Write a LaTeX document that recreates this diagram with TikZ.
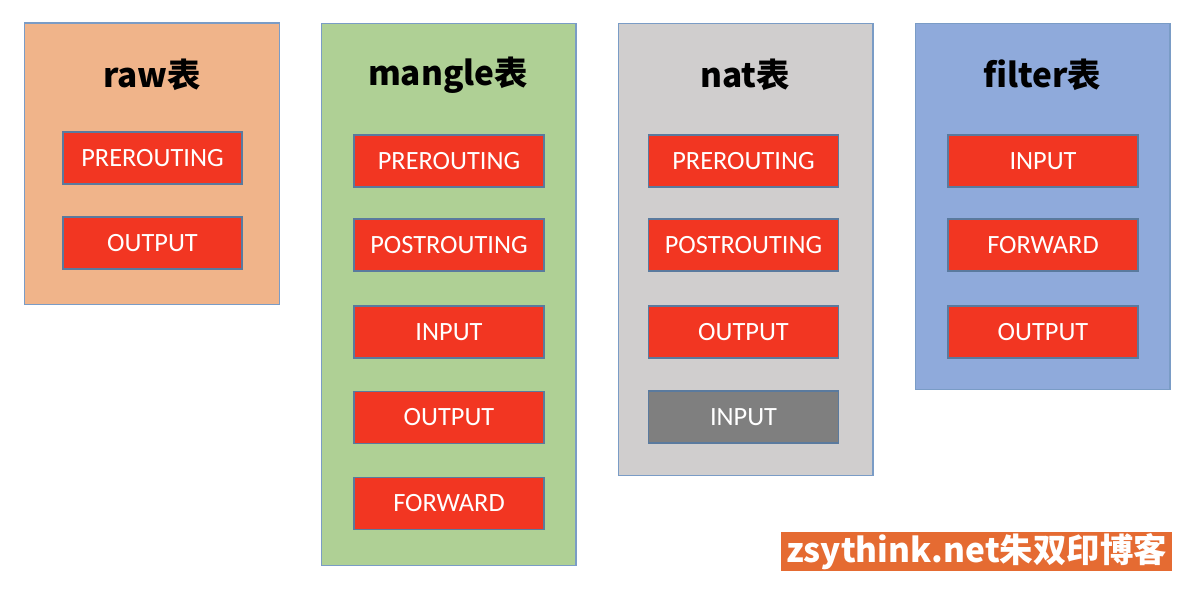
\documentclass[tikz,border=0pt]{standalone}
\usepackage{fontspec}
\setmainfont{Carlito}
\newfontfamily\cjk{Noto Sans CJK SC}
\usepackage{tikz}

\definecolor{rawfill}{HTML}{F0B48A}
\definecolor{manglefill}{HTML}{AFD095}
\definecolor{natfill}{HTML}{D0CECE}
\definecolor{filterfill}{HTML}{8FAADB}
\definecolor{panelline}{HTML}{7A9CC6}
\definecolor{chainfill}{HTML}{F23622}
\definecolor{chainline}{HTML}{5A7A9E}
\definecolor{offfill}{HTML}{7F7F7F}
\definecolor{markfill}{HTML}{E56B32}

\tikzset{
	panel/.style={draw=panelline, line width=0.6pt, minimum width=5.1cm},
	title/.style={font=\cjk\bfseries\fontsize{19}{21}\selectfont},
	chain/.style={draw=chainline, line width=0.7pt, fill=chainfill, text=white,
		minimum width=3.8cm, minimum height=1.04cm, inner sep=0pt,
		font=\fontsize{15}{17}\selectfont}
}

\begin{document}
\begin{tikzpicture}[x=0.02cm, y=-0.02cm]
	\useasboundingbox (0, 0) rectangle (1196, 604);
	%tables
	\node[panel, fill=rawfill, minimum height=5.64cm] (raw) at (152, 164) {};
	\node[panel, fill=manglefill, minimum height=10.86cm] (mangle) at (448.5, 294.5) {};
	\node[panel, fill=natfill, minimum height=9.06cm] (nat) at (745.5, 249.5) {};
	\node[panel, fill=filterfill, minimum height=7.34cm] (filter) at (1042.5, 206.5) {};
	\node[title] (rawtitle) at (152, 75) {raw表};
	\node[title] (mangletitle) at (448, 75) {mangle表};
	\node[title] (nattitle) at (745, 75) {nat表};
	\node[title] (filtertitle) at (1042, 75) {filter表};
	%chains
	\foreach \y/\name [count=\i] in {158/PREROUTING, 243/OUTPUT}
		\node[chain, minimum width=3.58cm] (raw\i) at (152.5, \y) {\name};
	\foreach \y/\name [count=\i] in {161/PREROUTING, 245/POSTROUTING, 332/INPUT, 417.5/OUTPUT, 503.5/FORWARD}
		\node[chain] (mangle\i) at (449, \y) {\name};
	\foreach \y/\name [count=\i] in {161/PREROUTING, 245/POSTROUTING, 332/OUTPUT}
		\node[chain] (nat\i) at (743.5, \y) {\name};
	\node[chain, fill=offfill] (nat4) at (743.5, 417) {INPUT};
	\foreach \y/\name [count=\i] in {161/INPUT, 245/FORWARD, 332/OUTPUT}
		\node[chain] (filter\i) at (1043, \y) {\name};
	%watermark
	\node[fill=markfill, text=white, minimum width=7.82cm, minimum height=0.78cm, inner sep=0pt,
		font=\cjk\bfseries\fontsize{19}{21}\selectfont] (mark) at (976.5, 551.5) {zsythink.net朱双印博客};
\end{tikzpicture}
\end{document}
